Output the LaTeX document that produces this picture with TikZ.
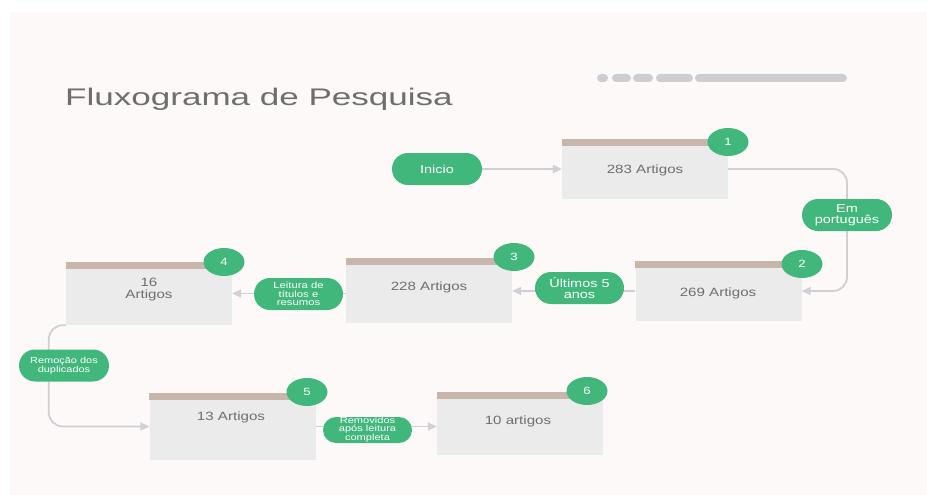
\documentclass[tikz,border=0pt]{standalone}
\usepackage{fontspec}
\setmainfont{Liberation Sans}[FakeStretch=1.26]
\newfontfamily\titlefont{Liberation Sans}[FakeStretch=1.46]
\usetikzlibrary{arrows.meta,shapes.geometric}
\definecolor{grn}{HTML}{41B77C}
\definecolor{boxc}{HTML}{EBEBEB}
\definecolor{barc}{HTML}{C8B5AB}
\definecolor{bgc}{HTML}{FDF9F8}
\definecolor{txtc}{HTML}{6E6E6E}
\definecolor{linec}{HTML}{CFCFD4}
\definecolor{dotc}{HTML}{CDCDD2}
\pgfdeclarelayer{back}
\pgfdeclarelayer{conn}
\pgfsetlayers{back,conn,main}
\begin{document}
\begin{tikzpicture}[x=1pt,y=-1pt,
  box/.style={rectangle,fill=boxc,minimum width=166pt,inner sep=0pt},
  btxt/.style={text=txtc,font=\fontsize{12}{12}\selectfont,align=center,inner sep=0pt},
  badge/.style={ellipse,fill=grn,minimum width=41pt,minimum height=28pt,inner sep=0pt,text=white,font=\fontsize{10.5}{10.5}\selectfont},
  pill/.style={rectangle,rounded corners=16pt,fill=grn,minimum width=90pt,minimum height=32pt,inner sep=0pt,text=white,align=center},
  conn/.style={draw=linec,line width=1.8pt},
  arr/.style={-{Triangle[length=9pt,width=8pt]}}
]
\useasboundingbox (0,0) rectangle (927,495);
\begin{pgfonlayer}{back}
\fill[white] (0,0) rectangle (927,495);
\fill[bgc] (10,12) rectangle (927,495);
\end{pgfonlayer}
% decorative bar
\fill[dotc,rounded corners=4pt] (597,74) rectangle (608,82);
\fill[dotc,rounded corners=4pt] (612,74) rectangle (631,82);
\fill[dotc,rounded corners=4pt] (633,74) rectangle (653,82);
\fill[dotc,rounded corners=4pt] (656,74) rectangle (693,82);
\fill[dotc,rounded corners=4pt] (695,74) rectangle (847,82);
% title
\node[anchor=base west,inner sep=0pt,text=txtc,font=\titlefont\fontsize{24}{24}\selectfont] (title) at (65,106) {Fluxograma de Pesquisa};
% boxes
\node[box,minimum height=60pt] (b1) at (645,169) {};
\node[box,minimum height=60pt] (b2) at (718.5,291) {};
\node[box,minimum height=65pt] (b3) at (429,290.5) {};
\node[box,minimum height=63pt] (b4) at (149,293.5) {};
\node[box,minimum height=67pt] (b5) at (232.5,426.5) {};
\node[box,minimum height=63pt] (b6) at (520,423.5) {};
\foreach \b in {b1,b2,b3,b4,b5,b6}{
  \fill[barc] (\b.north west) rectangle ([yshift=-7pt]\b.north east);
}
\node[btxt] (t1) at (645,170) {283 Artigos};
\node[btxt] (t2) at (718,293) {269 Artigos};
\node[btxt] (t3) at (429,287) {228 Artigos};
\node[btxt] (t4) at (149,290) {16\\Artigos};
\node[btxt] (t5) at (231,417) {13 Artigos};
\node[btxt] (t6) at (518,421) {10 artigos};
% badges
\node[badge] (n1) at (728,142) {1};
\node[badge] (n2) at (802,264) {2};
\node[badge] (n3) at (514,257) {3};
\node[badge] (n4) at (224,262) {4};
\node[badge] (n5) at (307,392) {5};
\node[badge] (n6) at (587,391) {6};
% pills
\node[pill,font=\fontsize{11.5}{11.5}\selectfont] (ini) at (437,169) {Inicio};
\node[pill,font=\fontsize{11.5}{11}\selectfont] (em) at (847,215) {Em\\português};
\node[pill,minimum width=89pt,font=\fontsize{11.5}{11}\selectfont] (ult) at (579.5,288) {Últimos 5\\anos};
\node[pill,minimum width=89pt,font=\fontsize{9}{8.5}\selectfont] (lei) at (298.5,294) {Leitura de\\títulos e\\resumos};
\node[pill,font=\fontsize{8.7}{8}\selectfont] (rem) at (64,365.5) {Remoção dos\\duplicados};
\node[pill,minimum width=89pt,minimum height=26pt,rounded corners=13pt,font=\fontsize{8.8}{8}\selectfont] (rmv) at (367.5,430) {Removidos\\após leitura\\completa};
% connectors
\begin{pgfonlayer}{conn}
\draw[conn,arr] (ini.east) -- (b1.west);
\draw[conn,arr,rounded corners=14pt] (b1.east) -- (b1.east -| em.center) -- (b2.east -| em.center) -- (b2.east);
\draw[conn,arr] (b2.west) -- (b2.west -| b3.east);
\draw[conn,arr] (b4.east -| b3.west) -- (b4.east);
\draw[conn,arr,rounded corners=14pt] (b4.south west) -- ++(-17,0) |- (b5.west);
\draw[conn,arr] (b5.east) -- (b5.east -| b6.west);
\end{pgfonlayer}
\end{tikzpicture}
\end{document}
